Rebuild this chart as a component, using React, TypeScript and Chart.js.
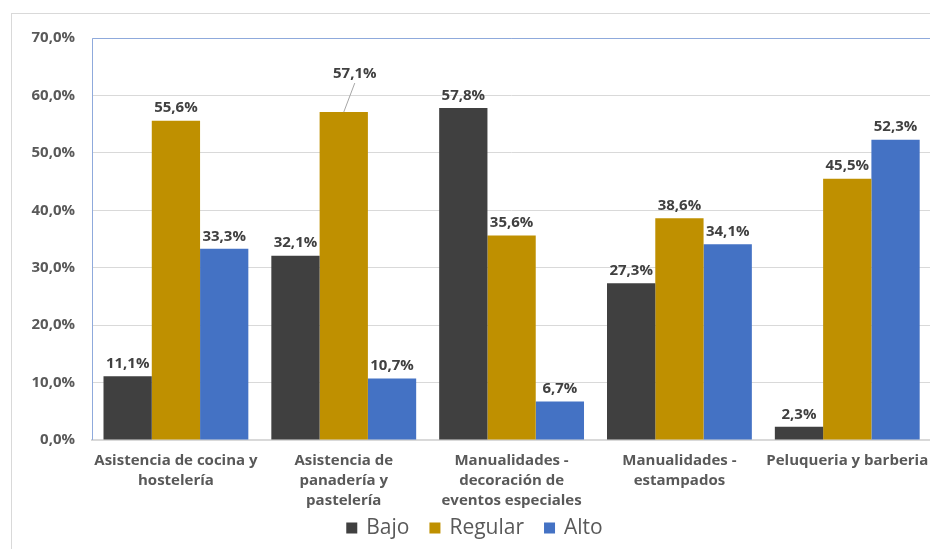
import React, { useEffect, useRef } from "react";
import { Chart, registerables } from "chart.js";

Chart.register(...registerables);

const categories: string[][] = [
  ["Asistencia de cocina y", "hostelería"],
  ["Asistencia de", "panadería y", "pastelería"],
  ["Manualidades -", "decoración de", "eventos especiales"],
  ["Manualidades -", "estampados"],
  ["Peluqueria y barberia"],
];
const bajo = [11.1, 32.1, 57.8, 27.3, 2.3];
const regular = [55.6, 57.1, 35.6, 38.6, 45.5];
const alto = [33.3, 10.7, 6.7, 34.1, 52.3];
const yTicks = [0, 10, 20, 30, 40, 50, 60, 70];

const FONT = "'Open Sans', 'DejaVu Sans', sans-serif";
const fmt = (v: number) => v.toFixed(1).replace(".", ",") + "%";

const plotBorder = {
  id: "plotBorder",
  beforeDatasetsDraw(chart: any) {
    const { ctx, chartArea: a } = chart;
    ctx.save();
    ctx.strokeStyle = "#8FAADC";
    ctx.lineWidth = 1;
    ctx.beginPath();
    ctx.moveTo(a.left + 0.5, a.bottom);
    ctx.lineTo(a.left + 0.5, a.top + 0.5);
    ctx.lineTo(a.right, a.top + 0.5);
    ctx.stroke();
    ctx.restore();
  },
};

const valueLabels = {
  id: "valueLabels",
  afterDatasetsDraw(chart: any) {
    const { ctx } = chart;
    ctx.save();
    ctx.font = `bold 15px ${FONT}`;
    ctx.fillStyle = "#404040";
    ctx.textAlign = "center";
    ctx.textBaseline = "bottom";
    chart.data.datasets.forEach((ds: any, di: number) => {
      const meta = chart.getDatasetMeta(di);
      meta.data.forEach((bar: any, i: number) => {
        const v = ds.data[i];
        if (di === 1 && i === 1) {
          const lx = bar.x + 11;
          const ly = bar.y - 30;
          ctx.strokeStyle = "#A6A6A6";
          ctx.lineWidth = 1;
          ctx.beginPath();
          ctx.moveTo(lx, ly + 1);
          ctx.lineTo(bar.x, bar.y);
          ctx.stroke();
          ctx.fillText(fmt(v), lx, ly - 1);
        } else {
          ctx.fillText(fmt(v), bar.x, bar.y - 5);
        }
      });
    });
    ctx.restore();
  },
};

const customLegend = {
  id: "customLegend",
  afterDraw(chart: any) {
    const { ctx } = chart;
    ctx.save();
    ctx.font = `21px ${FONT}`;
    ctx.textBaseline = "middle";
    ctx.textAlign = "left";
    const box = 11;
    const gapText = 9;
    const gapItem = 20;
    const items = chart.data.datasets.map((ds: any) => ({
      label: ds.label,
      color: ds.backgroundColor,
      w: box + gapText + ctx.measureText(ds.label).width,
    }));
    const total = items.reduce((s: number, it: any) => s + it.w, 0) + gapItem * (items.length - 1);
    let x = 474.5 - total / 2;
    const y = 528;
    items.forEach((it: any) => {
      ctx.fillStyle = it.color;
      ctx.fillRect(x, y - 5.5, box, box);
      ctx.fillStyle = "#595959";
      ctx.fillText(it.label, x + box + gapText, y);
      x += it.w + gapItem;
    });
    ctx.restore();
  },
};

export default function App() {
  const ref = useRef<HTMLCanvasElement>(null);
  useEffect(() => {
    document.body.style.overflow = "hidden";
    const chart = new Chart(ref.current!, {
      type: "bar",
      data: {
        labels: categories,
        datasets: [
          { label: "Bajo", data: bajo, backgroundColor: "#404040" },
          { label: "Regular", data: regular, backgroundColor: "#BF9000" },
          { label: "Alto", data: alto, backgroundColor: "#4472C4" },
        ],
      },
      options: {
        animation: false,
        responsive: false,
        maintainAspectRatio: false,
        datasets: { bar: { categoryPercentage: 0.863, barPercentage: 1 } },
        layout: { padding: { top: 38, left: 0, right: 8, bottom: 34 } },
        plugins: {
          legend: { display: false },
          tooltip: { enabled: false },
        },
        scales: {
          x: {
            grid: { display: false, drawTicks: false },
            border: { display: true, color: "#D9D9D9", width: 2 },
            ticks: {
              color: "#595959",
              font: { family: FONT, size: 15, weight: "bold", lineHeight: 1.33 },
              padding: 11,
              maxRotation: 0,
              autoSkip: false,
            },
            afterFit: (s: any) => {
              s.height = 75;
            },
          },
          y: {
            min: 0,
            max: 70,
            afterBuildTicks: (s: any) => {
              s.ticks = yTicks.map((v) => ({ value: v }));
            },
            grid: { color: "#D9D9D9", drawTicks: false },
            border: { display: false },
            ticks: {
              color: "#595959",
              font: { family: FONT, size: 15, weight: "bold" },
              padding: 17,
              callback: (v: any) => fmt(Number(v)),
            },
            afterFit: (s: any) => {
              s.width = 92;
            },
          },
        },
      },
      plugins: [plotBorder, valueLabels, customLegend],
    });
    return () => chart.destroy();
  }, []);
  return (
    <div style={{ position: "fixed", left: 0, top: 0, width: 930, height: 549, overflow: "hidden", background: "#fff" }}>
      <div
        style={{
          position: "absolute",
          left: 11,
          top: 13,
          width: 1000,
          height: 700,
          border: "1px solid #D9D9D9",
        }}
      />
      <canvas ref={ref} width={940} height={549} style={{ position: "absolute", left: 0, top: 0, width: 940, height: 549 }} />
    </div>
  );
}
